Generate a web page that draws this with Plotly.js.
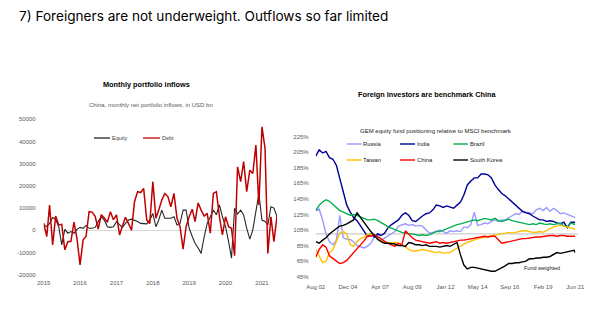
<!DOCTYPE html>
<html>
<head>
<meta charset="utf-8">
<script src="https://cdn.plot.ly/plotly-3.0.1.min.js"></script>
<style>
  html, body { margin: 0; padding: 0; background: #ffffff; }
  #chart { width: 600px; height: 331px; }
</style>
</head>
<body>
<div id="chart"></div>
<script>
// ---------------- DATA ----------------
// Left chart: China monthly net portfolio inflows (USD mn), Jan 2015 - Jun 2021
const flowSeriesNames = ['Equity', 'Debt'];
const equityFlows = [
  2400, 1700, 3100, 5800, 5000, 1600, -6600, 400, -1300, -600, -1300, 400,
  1300, 900, 2200, 900, 900, 1300, 3900, 6100, 4600, 1600, 1300, 1600,
  3900, 2400, 1300, 3100, 4600, 5000, 4600, 4000, 3100, 3100, 2900, 4600,
  7600, 1600, 4600, 9100, 5400, 5400, 5400, 6100, 2400, 3100, 9100, 9100,
  900, -2800, -5800, -8000, -10400, -2800, 3100, 6100, 9100, 7000, 11400, 6100,
  1600, -5100, -12600, 9900, 7300, 9100, 6900, 900, -4000, 200, 9100, 16500,
  4600, 4000, 2400, 10600, 10000, 6200
];
const debtFlows = [
  3200, -2800, 11400, -6600, 6400, 2400, 2700, -8800, -5100, -5100, 3700, -3600,
  -15600, -4300, -2800, 8400, 8200, 6300, 600, 7000, 5500, 3600, 8400, 4800,
  6900, -2100, 1800, 5900, 3100, 0, 12900, 17400, 17000, 18800, 4600, 3000,
  21900, 5400, 9100, 13600, 16600, 15200, 10600, 16600, 5400, 1600, -8500, 1600,
  6100, 9500, 3900, 12300, 9100, 6400, 7600, -1300, 16600, 17400, 6100, -2100,
  6100, 1600, 900, -11400, 28600, 21900, 30900, 17400, 27100, 25600, 38400, 11400,
  46600, 36900, -10400, 6100, -5100, 6400
];
const flowYearTicks = ['2015', '2016', '2017', '2018', '2019', '2020', '2021'];
const flowYTicks = [-20000, -10000, 0, 10000, 20000, 30000, 40000, 50000];

// Right chart: GEM equity fund positioning relative to MSCI benchmark (%), quarterly Aug 2002 - Jun 2021
const positionNames = ['Russia', 'India', 'Brazil', 'Taiwan', 'China', 'South Korea'];
const russia = [
  130, 132, 118, 100, 90, 86, 92, 124, 95, 93,
  93, 90, 85, 83, 82, 84, 88, 96, 100, 92,
  95, 98, 100, 103, 110, 112, 113, 111, 112, 110,
  111, 110, 106, 101, 102, 103, 105, 103, 101, 104,
  103, 104, 103, 109, 108, 112, 128, 111, 112, 114,
  113, 116, 118, 116, 118, 118, 121, 123, 126, 125,
  129, 128, 127, 126, 131, 133, 130, 134, 129, 133,
  130, 126, 127, 125, 124, 122, 121
];
const india = [
  200, 208, 204, 206, 198, 196, 188, 172, 152, 137,
  128, 121, 117, 110, 102, 97, 100, 96, 100, 98,
  101, 108, 112, 115, 118, 124, 127, 124, 117, 116,
  120, 123, 126, 127, 131, 137, 136, 134, 136, 134,
  133, 137, 141, 150, 163, 168, 172, 172, 177, 177,
  176, 172, 163, 157, 152, 149, 145, 140, 136, 133,
  129, 127, 126, 123, 121, 118, 118, 116, 117, 116,
  114, 113, 115, 108, 115, 115, 114
];
const brazil = [
  130, 137, 141, 144, 142, 138, 133, 130, 128, 126,
  124, 125, 124, 122, 120, 118, 118, 119, 117, 114,
  112, 109, 107, 105, 103, 102, 101, 100, 100, 99,
  98, 99, 98, 99, 101, 103, 103, 105, 107, 108,
  110, 112, 113, 114, 115, 117, 118, 117, 119, 120,
  119, 118, 120, 117, 116, 118, 119, 117, 116, 115,
  114, 113, 112, 113, 112, 114, 113, 112, 113, 112,
  113, 114, 110, 109, 114, 113, 112
];
const taiwan = [
  80, 72, 63, 65, 76, 80, 92, 101, 103, 100,
  86, 84, 90, 94, 96, 99, 100, 98, 96, 93,
  89, 88, 89, 89, 88, 86, 84, 80, 78, 78,
  79, 80, 79, 78, 77, 76, 77, 75, 76, 76,
  79, 82, 85, 87, 89, 91, 92, 94, 95, 96,
  97, 98, 99, 100, 101, 101, 102, 101, 102, 103,
  104, 104, 103, 102, 102, 103, 102, 104, 106, 109,
  110, 111, 110, 109, 108, 107, 106
];
const china = [
  70, 80, 86, 83, 72, 68, 65, 62, 63, 66,
  71, 75, 80, 86, 91, 97, 97, 99, 96, 93,
  90, 88, 86, 84, 88, 86, 104, 99, 95, 92,
  91, 90, 89, 88, 89, 90, 88, 89, 88, 89,
  90, 91, 92, 92, 93, 94, 95, 95, 96, 97,
  96, 97, 97, 92, 88, 89, 90, 91, 92, 93,
  94, 94, 95, 95, 96, 96, 97, 97, 98, 98,
  97, 98, 98, 97, 97, 97, 97
];
const southKorea = [
  90, 88, 92, 95, 100, 104, 107, 110, 111, 113,
  116, 118, 127, 121, 115, 108, 103, 98, 93, 90,
  88, 88, 87, 87, 85, 85, 84, 89, 88, 86,
  86, 85, 86, 84, 84, 84, 83, 84, 85, 84,
  86, 89, 73, 60, 55, 57, 57, 56, 55, 54,
  53, 52, 52, 54, 56, 59, 62, 62, 63, 63,
  64, 65, 68, 68, 69, 69, 70, 70, 71, 73,
  76, 75, 76, 77, 78, 79, 76
];
const positionTickText = ['Aug 02', 'Dec 04', 'Apr 07', 'Aug 09', 'Jan 12', 'May 14', 'Sep 16', 'Feb 19', 'Jun 21'];
const positionTickDates = ['2002-08-01', '2004-12-01', '2007-04-01', '2009-08-01', '2012-01-01', '2014-05-01', '2016-09-01', '2019-02-01', '2021-06-01'];
const positionYTicks = [45, 65, 85, 105, 125, 145, 165, 185, 205, 225];

// ---------------- HELPERS ----------------
const W = 600, H = 331;
const px = x => x / W;
const py = y => 1 - y / H;
function monthDates(startY, startM, n, step) {
  const out = [];
  for (let i = 0; i < n; i++) {
    const t = (startM - 1) + i * step;
    const y = startY + Math.floor(t / 12);
    const m = (t % 12) + 1;
    out.push(y + '-' + String(m).padStart(2, '0') + '-01');
  }
  return out;
}
const flowDates = monthDates(2015, 1, equityFlows.length, 1);
const posDates = monthDates(2002, 8, russia.length - 1, 3).concat(['2021-06-01']);

const tickFont = { family: 'Liberation Sans Narrow, Arial Narrow, Liberation Sans, Arial, sans-serif', size: 6, color: '#595959' };
const flowColors = ['#262626', '#c00000'];
const posColors = ['#9999ff', '#000099', '#00b050', '#ffc000', '#ff0000', '#000000'];
const posValues = [russia, india, brazil, taiwan, china, southKorea];

// ---------------- TRACES ----------------
const traces = [];
[equityFlows, debtFlows].forEach((vals, i) => {
  traces.push({
    type: 'scatter', mode: 'lines', name: flowSeriesNames[i],
    x: flowDates, y: vals, xaxis: 'x', yaxis: 'y',
    line: { color: flowColors[i], width: i === 1 ? 1.5 : 1.1 },
    showlegend: false, hoverinfo: 'skip'
  });
});
posValues.forEach((vals, i) => {
  traces.push({
    type: 'scatter', mode: 'lines', name: positionNames[i],
    x: posDates, y: vals, xaxis: 'x2', yaxis: 'y2',
    line: { color: posColors[i], width: 1.4 },
    showlegend: false, hoverinfo: 'skip'
  });
});

// ---------------- LEGENDS (drawn) ----------------
const shapes = [
  { type: 'line', xref: 'x2 domain', yref: 'y2', x0: 0, x1: 1.01, y0: 100, y1: 100,
    line: { color: '#bfbfbf', width: 1 }, layer: 'below' }
];
const annotations = [];
const legFont = { family: 'Liberation Sans, Arial, sans-serif', size: 5.5, color: '#404040' };

const flowLegX = [[94, 110], [143, 160]];
flowSeriesNames.forEach((n, i) => {
  shapes.push({ type: 'line', xref: 'paper', yref: 'paper',
    x0: px(flowLegX[i][0]), x1: px(flowLegX[i][1]), y0: py(138), y1: py(138),
    line: { color: flowColors[i], width: 1.3 } });
  annotations.push({ xref: 'paper', yref: 'paper', x: px(flowLegX[i][1] + 0.5), y: py(138),
    xanchor: 'left', yanchor: 'middle', text: n, showarrow: false, font: legFont, borderpad: 0 });
});
const posLegCols = [[346.7, 361.7], [400, 415], [453.3, 468]];
const posLegRows = [144, 160];
positionNames.forEach((n, i) => {
  const c = posLegCols[i % 3], r = posLegRows[Math.floor(i / 3)];
  shapes.push({ type: 'line', xref: 'paper', yref: 'paper',
    x0: px(c[0]), x1: px(c[1]), y0: py(r), y1: py(r),
    line: { color: posColors[i], width: 1.4 } });
  annotations.push({ xref: 'paper', yref: 'paper', x: px(c[1] + 0.5), y: py(r),
    xanchor: 'left', yanchor: 'middle', text: n, showarrow: false,
    font: { family: 'Liberation Sans, Arial, sans-serif', size: 5.8, color: '#222222' }, borderpad: 0 });
});

// ---------------- TITLES ----------------
annotations.push(
  { xref: 'paper', yref: 'paper', x: px(17.5), y: py(15.5), xanchor: 'left', yanchor: 'middle', showarrow: false,
    text: '7) Foreigners are not underweight. Outflows so far limited',
    font: { family: 'Inter, Roboto, Liberation Sans, sans-serif', size: 13.6, color: '#000000' }, borderpad: 0 },
  { xref: 'paper', yref: 'paper', x: px(146), y: py(85), xanchor: 'center', yanchor: 'middle', showarrow: false,
    text: '<b>Monthly portfolio inflows</b>',
    font: { family: 'Liberation Sans, Arial, sans-serif', size: 7.3, color: '#000000' } },
  { xref: 'paper', yref: 'paper', x: px(151), y: py(105), xanchor: 'center', yanchor: 'middle', showarrow: false,
    text: 'China, monthly net portfolio inflows, in USD bn',
    font: { family: 'Liberation Sans Narrow, Arial Narrow, Liberation Sans, sans-serif', size: 6, color: '#595959' } },
  { xref: 'paper', yref: 'paper', x: px(426.7), y: py(94), xanchor: 'center', yanchor: 'middle', showarrow: false,
    text: '<b>Foreign investors are benchmark China</b>',
    font: { family: 'Liberation Sans, Arial, sans-serif', size: 7.3, color: '#000000' } },
  { xref: 'paper', yref: 'paper', x: px(436), y: py(131), xanchor: 'center', yanchor: 'middle', showarrow: false,
    text: 'GEM equity fund positioning relative to MSCI benchmark',
    font: { family: 'Liberation Sans, Arial, sans-serif', size: 6, color: '#222222' } },
  { xref: 'paper', yref: 'paper', x: px(541.5), y: py(268.3), xanchor: 'center', yanchor: 'middle', showarrow: false,
    text: 'Fund weighted',
    font: { family: 'Liberation Sans, Arial, sans-serif', size: 5.5, color: '#222222' } }
);

// ---------------- LAYOUT ----------------
const layout = {
  width: W, height: H,
  margin: { l: 0, r: 0, t: 0, b: 0, pad: 0 },
  paper_bgcolor: '#ffffff', plot_bgcolor: '#ffffff',
  showlegend: false,
  xaxis: {
    type: 'date', domain: [px(43.7), px(277)], anchor: 'y',
    range: ['2015-01-01', '2021-06-01'],
    tickvals: flowYearTicks.map(y => y + '-01-01'), ticktext: flowYearTicks,
    showgrid: false, zeroline: false, showline: false, ticks: '',
    tickfont: tickFont, ticklabelstandoff: 3, fixedrange: true
  },
  yaxis: {
    domain: [py(274.7), py(119.3)], anchor: 'x',
    range: [-20000, 50000], tickvals: flowYTicks, ticktext: flowYTicks.map(String),
    showgrid: false, zeroline: true, zerolinecolor: '#d9d9d9', zerolinewidth: 1,
    showline: false, ticks: '', tickfont: tickFont, ticklabelstandoff: 7, fixedrange: true
  },
  xaxis2: {
    type: 'date', domain: [px(315.7), px(575.3)], anchor: 'y2',
    range: ['2002-08-01', '2021-06-01'],
    tickvals: positionTickDates, ticktext: positionTickText,
    showgrid: false, zeroline: false, showline: false, ticks: '',
    tickfont: tickFont, ticklabelstandoff: 5, fixedrange: true
  },
  yaxis2: {
    domain: [py(276.7), py(136.7)], anchor: 'x2',
    range: [45, 225], tickvals: positionYTicks, ticktext: positionYTicks.map(v => v + '%'),
    showgrid: false, zeroline: false, showline: false, ticks: '',
    tickfont: tickFont, ticklabelstandoff: 6, fixedrange: true
  },
  shapes: shapes,
  annotations: annotations
};

Plotly.newPlot('chart', traces, layout, { staticPlot: true, displayModeBar: false });
</script>
</body>
</html>
